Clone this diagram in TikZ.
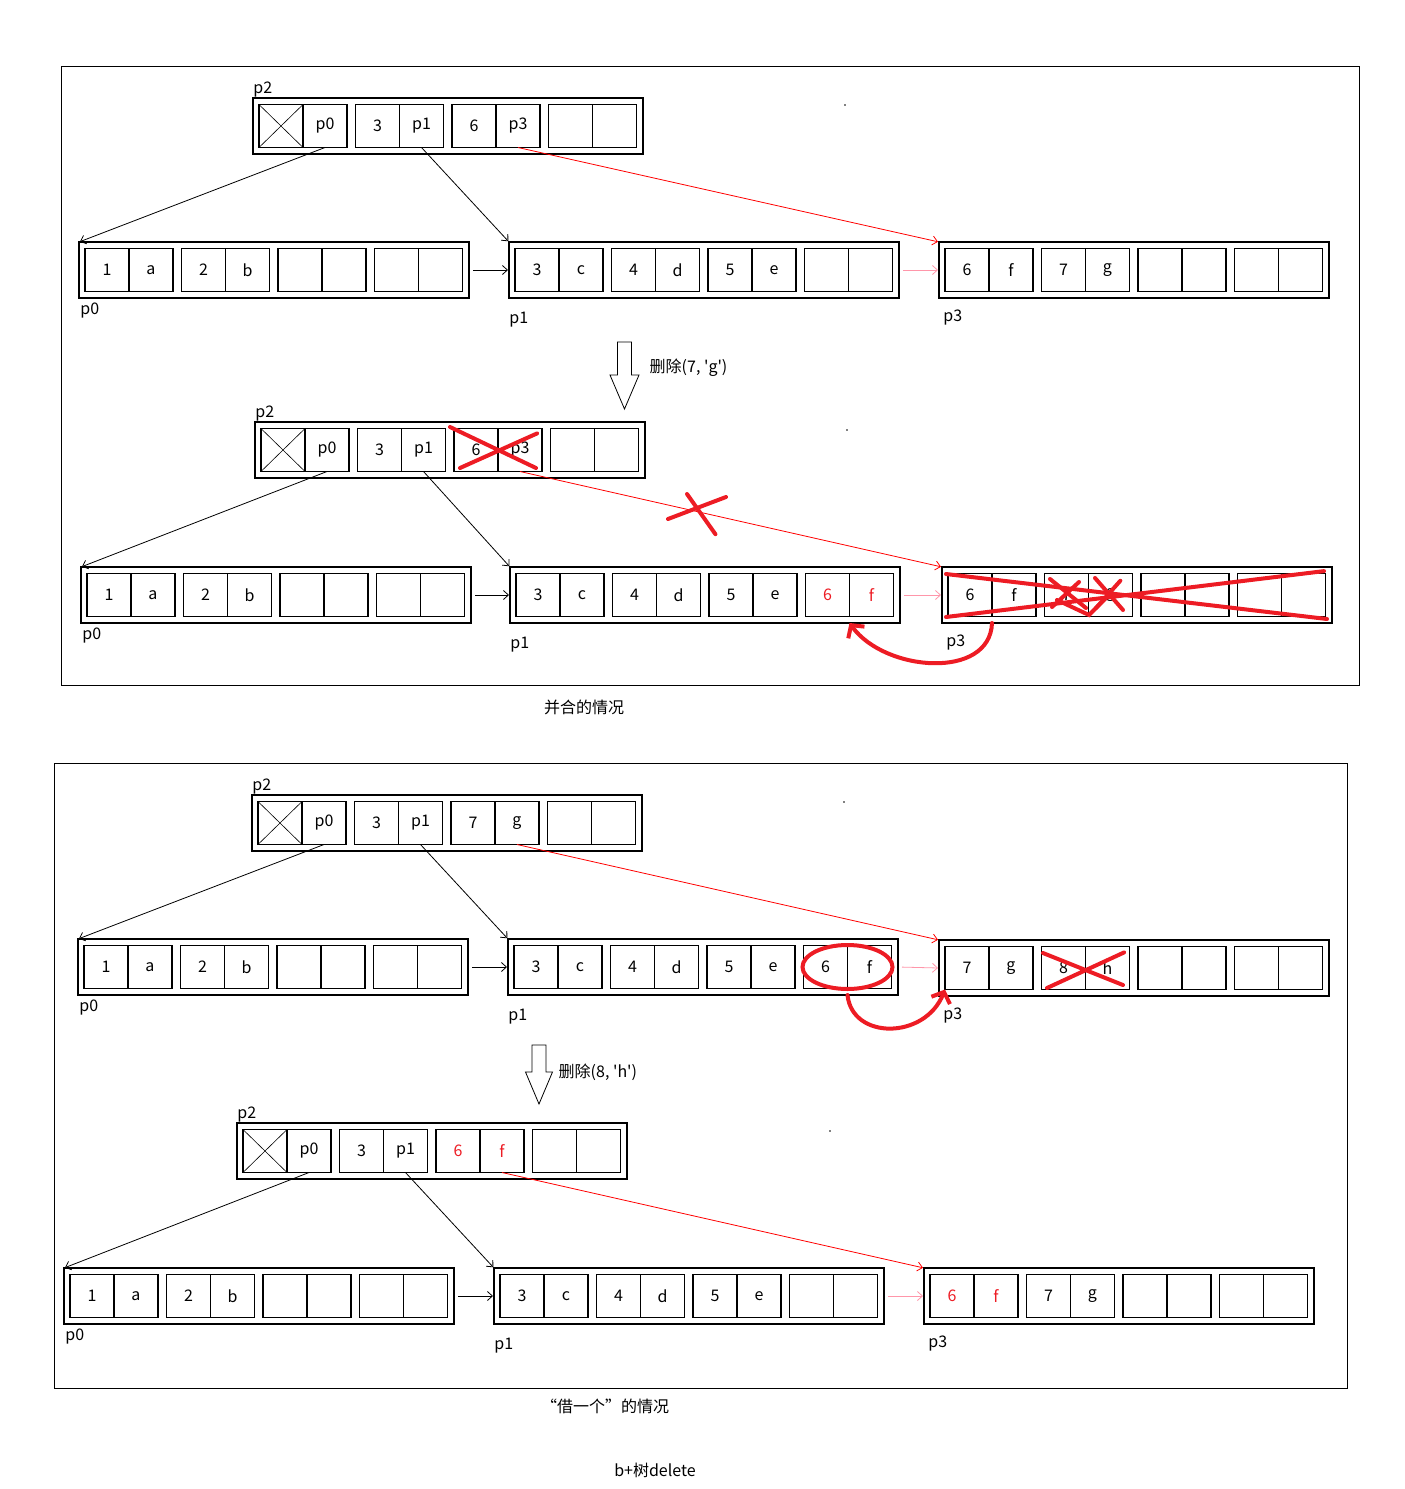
\documentclass[tikz,border=0pt]{standalone}
\usepackage{fontspec}
\setmainfont{Noto Sans CJK SC}
\usepackage{tikz}
\usetikzlibrary{arrows.meta}

\definecolor{pen}{RGB}{237,28,36}
\definecolor{link}{RGB}{255,0,0}
\definecolor{next}{RGB}{255,150,170}

\newcommand{\bnode}[3]{%
  \node[outer] (#1) at (#2) {};
  \foreach \t [count=\i] in {#3} {
    \pgfmathsetmacro{\dx}{6+96.5*floor((\i-1)/2)+44*mod(\i-1,2)}
    \node[cell] (#1-\i) at ([xshift=\dx pt,yshift=-6.5pt]#1.north west) {\t};
  }
}
\newcommand{\nullcell}[1]{\draw[line width=0.6pt] (#1.north west) -- (#1.south east) (#1.south west) -- (#1.north east);}

\begin{document}
\begin{tikzpicture}[x=1pt, y=-1pt, >={Straight Barb[length=5pt,width=9pt]}, shorten >=1pt, line width=0.8pt,
  every node/.style={font=\fontsize{16}{19}\selectfont},
  outer/.style={draw, line width=1.4pt, anchor=north west, minimum width=390pt, minimum height=56pt, inner sep=0pt, outer sep=0pt},
  cell/.style={draw, line width=1.4pt, anchor=north west, minimum width=44pt, minimum height=43pt, inner sep=0pt, outer sep=0pt},
  tag/.style={anchor=north west, inner sep=0pt},
  ptr/.style={->, line width=0.8pt},
  pen/.style={draw=pen, line width=4pt, line cap=round},
  penarrow/.style={pen, -{Straight Barb[length=9pt,width=20pt]}, shorten >=0pt}]
\useasboundingbox (0,0) rectangle (1405,1489);

\draw (61,66) rectangle (1359,685);
\bnode{a2}{253,98}{{},p0,3,p1,6,p3,{},{}}
\bnode{a0}{79,242}{1,a,2,b,{},{},{},{}}
\bnode{a1}{509,242}{3,c,4,d,5,e,{},{}}
\bnode{a3}{939,242}{6,f,7,g,{},{},{},{}}
\nullcell{a2-1}
\node[anchor=south west, inner sep=0pt] at (a2.north west) {p2};
\node[tag] at ([xshift=1pt,yshift=-4pt]a0.south west) {p0};
\node[tag] at ([yshift=-14pt]a1.south west) {p1};
\node[tag] at ([xshift=4pt,yshift=-11pt]a3.south west) {p3};
\path[ptr]
(a2-2.south) edge (a0.north west)
(a2-4.south) edge (a1.north west)
(a2-6.south) edge[link] (a3.north west)
(a0.east) edge[shorten <=4pt] (a1.west)
(a1.east) edge[next, shorten <=4pt] (a3.west);

\draw (617.5,342) -- (631.5,342) -- (631.5,375) -- (639,375) -- (624.5,409) -- (610,375) -- (617.5,375) -- cycle;
\node[anchor=west] at (646,368) {删除(7, \textquotesingle g\textquotesingle)};

\bnode{b2}{255,422}{{},p0,3,p1,6,p3,{},{}}
\bnode{b0}{81,567}{1,a,2,b,{},{},{},{}}
\bnode{b1}{510,567}{3,c,4,d,5,e,\textcolor{pen}{6},\textcolor{pen}{f}}
\bnode{b3}{942,567}{6,f,7,g,{},{},{},{}}
\nullcell{b2-1}
\node[anchor=south west, inner sep=0pt] at (b2.north west) {p2};
\node[tag] at ([xshift=1pt,yshift=-4pt]b0.south west) {p0};
\node[tag] at ([yshift=-14pt]b1.south west) {p1};
\node[tag] at ([xshift=4pt,yshift=-11pt]b3.south west) {p3};
\path[ptr]
(b2-2.south) edge (b0.north west)
(b2-4.south) edge (b1.north west)
(b2-6.south) edge[link] (b3.north west)
(b0.east) edge[shorten <=4pt] (b1.west)
(b1.east) edge[next, shorten <=4pt] (b3.west);
\draw[pen] (450,427) -- (536,468) (460,468) -- (538,433);
\draw[pen] (668,519) -- (726,497) (687,494) -- (716,535);
\draw[pen] (946,574) -- (1327,619) (946,617) -- (1325,571);
\draw[pen] (1050,579) -- (1086,608) (1052,607) -- (1079,582) (1057,600) -- (1089,615) -- (1107,597);
\draw[pen] (1095,578) -- (1123,610) (1096,608) -- (1121,580);
\draw[penarrow] (b3.south -| b3-1.east) .. controls (990,680) and (885,672) .. (b1.south -| b1-7.east);
\node at (584,707) {并合的情况};

\draw (54,763) rectangle (1347,1388);
\bnode{c2}{252,795}{{},p0,3,p1,7,g,{},{}}
\bnode{c0}{78,939}{1,a,2,b,{},{},{},{}}
\bnode{c1}{508,939}{3,c,4,d,5,e,6,f}
\bnode{c3}{939,940}{7,g,8,h,{},{},{},{}}
\nullcell{c2-1}
\node[anchor=south west, inner sep=0pt] at (c2.north west) {p2};
\node[tag] at ([xshift=1pt,yshift=-4pt]c0.south west) {p0};
\node[tag] at ([yshift=-14pt]c1.south west) {p1};
\node[tag] at ([xshift=4pt,yshift=-11pt]c3.south west) {p3};
\path[ptr]
(c2-2.south) edge (c0.north west)
(c2-4.south) edge (c1.north west)
(c2-6.south) edge[link] (c3.north west)
(c0.east) edge[shorten <=4pt] (c1.west)
(c1.east) edge[next, shorten <=4pt] (c3.west);
\draw[pen] (c1-7.east) ellipse[x radius=45pt, y radius=22pt];
\draw[pen] (1043,953) -- (1123,985) (1047,988) -- (1125,952);
\draw[penarrow] (c1.south -| c1-7.east) .. controls (852,1040) and (925,1040) .. (c3-1.south west);

\draw (532,1045) -- (546,1045) -- (546,1072) -- (552.5,1072) -- (539,1104) -- (525.5,1072) -- (532,1072) -- cycle;
\node[anchor=west] at (555,1072) {删除(8, \textquotesingle h\textquotesingle)};

\bnode{d2}{237,1123}{{},p0,3,p1,\textcolor{pen}{6},\textcolor{pen}{f},{},{}}
\bnode{d0}{64,1268}{1,a,2,b,{},{},{},{}}
\bnode{d1}{494,1268}{3,c,4,d,5,e,{},{}}
\bnode{d3}{924,1268}{\textcolor{pen}{6},\textcolor{pen}{f},7,g,{},{},{},{}}
\nullcell{d2-1}
\node[anchor=south west, inner sep=0pt] at (d2.north west) {p2};
\node[tag] at ([xshift=1pt,yshift=-4pt]d0.south west) {p0};
\node[tag] at ([yshift=-14pt]d1.south west) {p1};
\node[tag] at ([xshift=4pt,yshift=-11pt]d3.south west) {p3};
\path[ptr]
(d2-2.south) edge (d0.north west)
(d2-4.south) edge (d1.north west)
(d2-6.south) edge[link] (d3.north west)
(d0.east) edge[shorten <=4pt] (d1.west)
(d1.east) edge[next, shorten <=4pt] (d3.west);
\node at (605,1406) {“借一个”的情况};
\node at (655,1470) {b+树delete};

\fill (845,105) circle (0.8pt) (847,430) circle (0.8pt) (844,802) circle (0.8pt) (830,1131) circle (0.8pt);
\end{tikzpicture}
\end{document}
